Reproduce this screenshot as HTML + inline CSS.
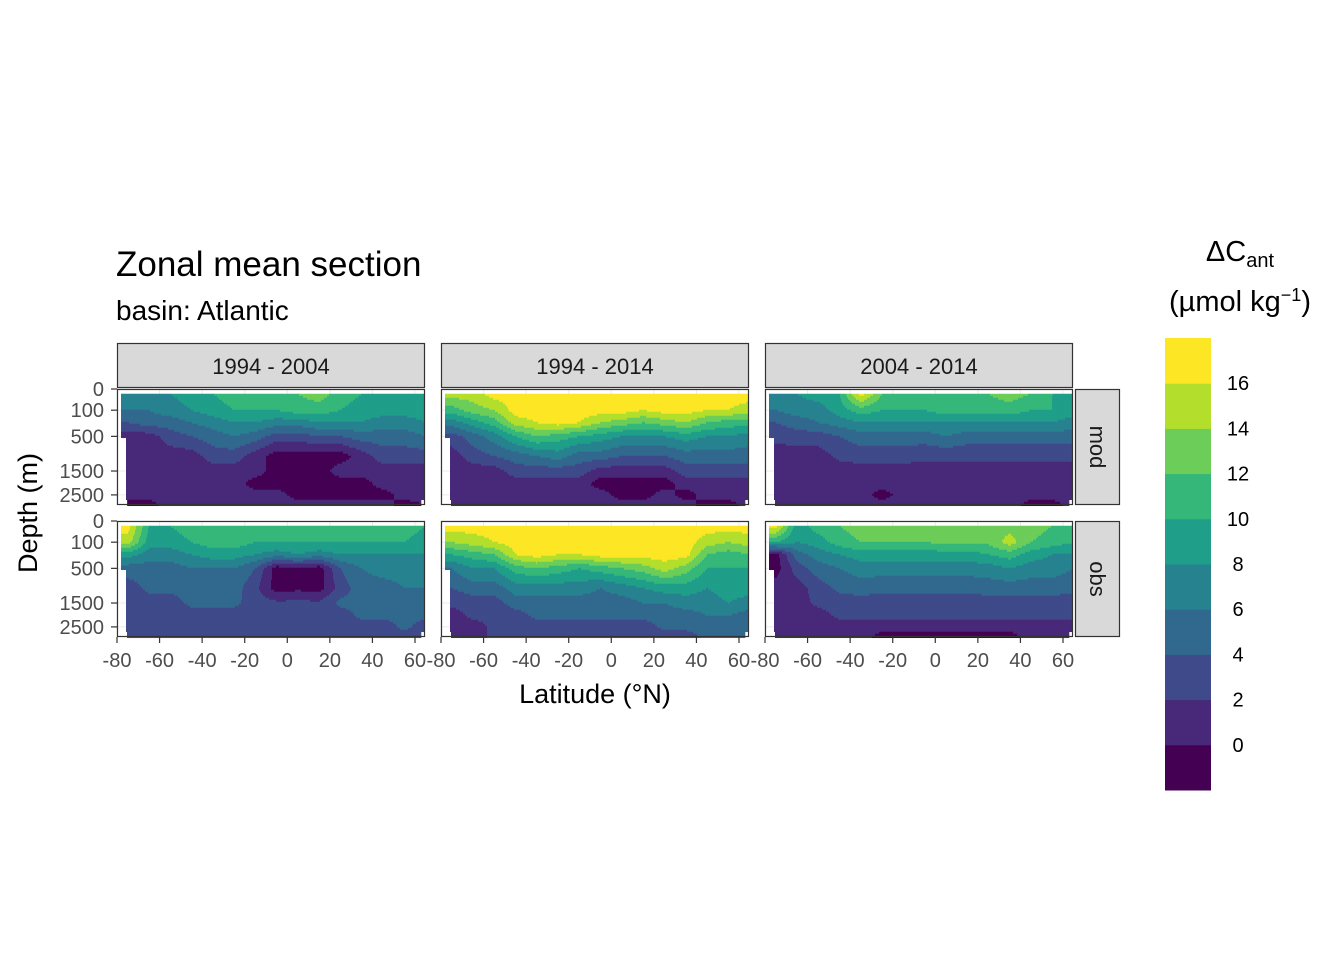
<!DOCTYPE html>
<html><head><meta charset="utf-8">
<style>
html,body{margin:0;padding:0;background:#fff;}
svg{display:block;font-family:"Liberation Sans",sans-serif;}
</style></head>
<body>
<svg id="chart" width="1344" height="960" viewBox="0 0 1344 960">
<text x="116" y="276" font-size="35" fill="#000">Zonal mean section</text>
<text x="116" y="320" font-size="28" fill="#000">basin: Atlantic</text>
<text transform="translate(37,513) rotate(-90)" text-anchor="middle" font-size="27" fill="#000">Depth (m)</text>
<text x="595" y="703" text-anchor="middle" font-size="27" fill="#000">Latitude (°N)</text>
<text x="1240" y="261" text-anchor="middle" font-size="29" fill="#000">ΔC<tspan font-size="20" dy="6">ant</tspan></text>
<text x="1240" y="311" text-anchor="middle" font-size="29" fill="#000">(µmol kg<tspan font-size="18" dy="-10">−1</tspan><tspan dy="10">)</tspan></text>
<g id="panels"></g>
<g id="legend"></g>
</svg>
<script>
const lats = [-75,-65,-55,-45,-35,-25,-15,-5,5,15,25,35,45,55,65];
const depths = [5,100,250,500,1000,1500,2000,2500,3000];
const periods = ["1994 - 2004","1994 - 2014","2004 - 2014"];
const sources = ["mod","obs"];
const levels = [0,2,4,6,8,10,12,14,16];
const legendLabels = ["0","2","4","6","8","10","12","14","16"];
const xTicks = [-80,-60,-40,-20,0,20,40,60];
const yTicks = [0,100,500,1500,2500];
const colors = ["#440154","#482878","#3E4A89","#31688E","#26828E","#1F9E89","#35B779","#6DCD59","#B4DE2C","#FDE725"];
const modA = [[7,6,4,1,1,1,1,0,0],[7,6,5,1,1,1,1,1,-1],[8,7,5,3,1,1,1,1,1],[9,8,6,4,1,1,1,1,1],[10,9,7,5,3,1,1,1,1],[11,10,8,6,3,1,1,1,1],[11,10,8,5,1,1,-1,1,1],[11,10,7,3,-1,-1,-1,1,1],[12,11,7,3,-1,-1,-1,-1,1],[13,11,8,4,-1,-1,-1,-1,1],[11,10,8,4,-1,1,-1,-1,1],[10,9,8,5,1,1,-1,-1,1],[9,9,7,5,3,1,1,-1,1],[9,9,7,5,3,1,1,1,-1],[9,9,8,6,3,1,1,1,0]];
const modB = [[15,11,7,3,1,1,1,1,1],[15,13,9,5,3,1,1,1,1],[17,14,11,7,4,1,1,1,1],[17,17,15,10,5,3,1,1,1],[17,17,16,12,6,3,1,1,1],[17,17,17,11,7,3,1,1,1],[17,17,16,10,5,3,1,1,1],[17,17,14,9,5,1,-1,1,1],[17,17,13,8,4,1,-1,-1,1],[17,16,12,8,4,1,-1,-1,1],[17,17,13,8,4,1,-1,1,1],[17,17,14,9,5,3,1,-1,1],[17,16,12,8,5,3,1,1,-1],[17,16,11,8,5,3,1,1,-1],[17,15,11,7,5,3,1,1,1]];
const modC = [[8,6,4,2.5,1,1,1,1,1],[8,7,5,3,1,1,1,1,1],[9,7,6,3,1,1,1,1,1],[10,9,7,4,2.5,1,1,1,1],[17,11,8,5,3,1,1,1,1],[12,10,8,5,3,1,1,-1,1],[12,10,8,5,3,1,1,1,1],[12,10,8,5,2.5,1,1,1,1],[12,11,8,6,2.5,1,1,1,1],[12,11,8,5,2.5,1,1,1,1],[12,11,8,5,2.5,1,1,1,1],[13,11,8,5,2.5,1,1,1,1],[12,10,8,5,2.5,1,1,1,-1],[10,10,8,5,2.5,1,1,1,-1],[10,9,7,5,2.5,1,1,1,1]];
const obsA = [[17,15,9,5,3,2.5,2.5,2.5,2.5],[10,9,7,5,4.5,3,2.5,2.5,2.5],[10,9,7,5,4.5,3,2.5,2.5,2.5],[11,10,8,6,5,4.5,3,3,3],[12,11,9,6,5,4.5,3,3,3],[12,11,9,6,5,4.5,3,3,3],[11,10,8,4,2.5,3,3,3,3],[11,10,7,-1,-1,2.5,3,3,3],[11,10,8,-0.5,-0.5,2.5,3,3,3],[11,10,7,-1,-1,2.5,3,3,3],[11,10,8,4,3,4.5,3,3,3],[11,10,8,6,5,4.5,4.5,3,3],[11,10,8,7,5,4.5,4.5,3,3],[11,10,8,7,6,5,4.5,4.5,3],[10,9,8,7,6,5,4.5,3,3]];
const obsB = [[17,14,10,6,4,2.5,1,1,1],[17,15,11,8,5,3,2.5,1,1],[17,16,12,8,5,3,2.5,2.5,2.5],[17,17,16,11,7,5,3,3,3],[17,17,17,12,7,5,4.5,3,3],[17,17,16,11,7,5,4.5,3,3],[17,17,16,10,7,5,4.5,3,3],[17,17,17,11,6,5,4.5,3,3],[17,17,17,12,7,5,4.5,3,3],[17,17,17,13,8,6,4.5,3,3],[17,17,17,15,9,6,5,4.5,3],[17,17,17,13,9,7,5,4.5,3],[17,15,12,10,8,7,6,5,4.5],[17,14,11,10,9,8,6,5,4.5],[17,15,12,10,9,7,5,4.5,4.5]];
const obsC = [[17,10,-1,-1,1,1,1,1,1],[9,8,5,3,1,1,1,1,1],[11,9,7,5,3,2.5,1,1,1],[12,11,8,6,4.5,3,2.5,1,1],[13,12,9,7,5,3,2.5,1,1],[13,12,9,7,4.5,3,2.5,1,-1],[13,12,9,7,4.5,3,2.5,1,-1],[13,12,9,7,4.5,3,2.5,1,-1],[13,12.5,9,7,4.5,3,2.5,1,-1],[13,12.5,9,7,4.5,3,2.5,1,-1],[13,12.5,10,7,5,3,2.5,1,-1],[13,15,11,8,5,3,2.5,1,-1],[13,12,9,7,5,3,2.5,1,1],[12,11,8,7,5,3,2.5,1,1],[11,10,8,6,4.5,3,2.5,1,1]];
const grids = [[modA,modB,modC],[obsA,obsB,obsC]];

const NS="http://www.w3.org/2000/svg";
const colX=[117,441,765], rowY=[389,521], PW=308, PH=116;
const xScale=(lat,c)=>colX[c]+(lat+80)*(298/140);
const yScale=(d,r)=>rowY[r]+Math.sqrt(d)/Math.sqrt(3000)*PH;
function mk(tag,attrs,parent){const e=document.createElementNS(NS,tag);for(const k in attrs)e.setAttribute(k,attrs[k]);parent.appendChild(e);return e;}
function bin(v){v=Math.round(v*1000)/1000;let b=0;for(let i=0;i<levels.length;i++) if(v>=levels[i]) b=i+1;return b;}
function sample(g,lat,d){
  let li=0; while(li<lats.length-2 && lat>lats[li+1]) li++;
  let t=(lat-lats[li])/(lats[li+1]-lats[li]); t=Math.max(0,Math.min(1,t));
  const s=Math.sqrt(d); let di=0; while(di<depths.length-2 && d>depths[di+1]) di++;
  let u=(s-Math.sqrt(depths[di]))/(Math.sqrt(depths[di+1])-Math.sqrt(depths[di])); u=Math.max(0,Math.min(1,u));
  const a=g[li][di],b=g[li+1][di],c=g[li][di+1],e=g[li+1][di+1];
  return a*(1-t)*(1-u)+b*t*(1-u)+c*(1-t)*u+e*t*u;
}
const P=document.getElementById('panels');
for(let r=0;r<2;r++)for(let c=0;c<3;c++){
  const g=mk('g',{},P);
  
  
  const bg=mk('rect',{x:colX[c],y:rowY[r],width:PW,height:PH,fill:'#fff'},g);
  
  
  xTicks.forEach(t=>{const l=mk('line',{x1:xScale(t,c),x2:xScale(t,c),y1:rowY[r],y2:rowY[r]+PH,stroke:'#EBEBEB','stroke-width':1},g);
    
    });
  yTicks.forEach(t=>{const l=mk('line',{x1:colX[c],x2:colX[c]+PW,y1:yScale(t,r),y2:yScale(t,r),stroke:'#EBEBEB','stroke-width':1},g);
    
    });
  const grid=grids[r][c];
  const step=2;
  for(let py=yScale(5,r);py<rowY[r]+PH;py+=step){
    const d=Math.pow((py+step/2-rowY[r])/PH*Math.sqrt(3000),2);
    let runStart=null,runBin=null;
    const flush=(xe)=>{if(runStart!==null&&runBin!==null){const rc=mk('rect',{x:runStart,y:py,width:xe-runStart+0.3,height:step+0.3,fill:colors[runBin]},g);
      
      }};
    for(let px=colX[c];px<colX[c]+PW;px+=1){
      const lat=(px+0.5-colX[c])/(298/140)-80;
      let b=null;
      let mask = lat<-78 || (d>550 && lat<-76) || lat>64.2 || (d>2750 && lat>63) || (d>2750 && lat<-75.5);
      if(!mask) b=bin(sample(grid,lat,d));
      if(b!==runBin){flush(px);runStart=px;runBin=b;}
    }
    flush(colX[c]+PW);
  }
  const bd=mk('rect',{x:colX[c]+0.5,y:rowY[r]+0.5,width:PW-1,height:PH-1,fill:'none',stroke:'#333','stroke-width':1.2},g);
  
  
}
for(let c=0;c<3;c++){
  const s=mk('rect',{x:colX[c]+0.5,y:343.5,width:PW-1,height:44,fill:'#D9D9D9',stroke:'#333','stroke-width':1.2},P);
  
  
  const t=mk('text',{x:colX[c]+PW/2,y:374,'text-anchor':'middle','font-size':22,fill:'#1A1A1A'},P);
  t.textContent=periods[c];
  
  
}
for(let r=0;r<2;r++){
  const s=mk('rect',{x:1075.5,y:rowY[r]+0.5,width:44,height:PH-1,fill:'#D9D9D9',stroke:'#333','stroke-width':1.2},P);
  
  
  const t=mk('text',{transform:`translate(1090,${rowY[r]+PH/2}) rotate(90)`,'text-anchor':'middle','font-size':22,fill:'#1A1A1A'},P);
  t.textContent=sources[r];
  
  
}
for(let r=0;r<2;r++) yTicks.forEach((t,i)=>{
  const y=yScale(t,r);
  const l=mk('line',{x1:111,x2:117,y1:y,y2:y,stroke:'#333','stroke-width':1.2},P);
  
  
  const tx=mk('text',{x:104,y:y+7,'text-anchor':'end','font-size':20,fill:'#4D4D4D'},P);
  tx.textContent=String(t);
  
  
});
for(let c=0;c<3;c++) xTicks.forEach(t=>{
  const x=xScale(t,c);
  const l=mk('line',{x1:x,x2:x,y1:637,y2:643,stroke:'#333','stroke-width':1.2},P);
  
  
  const tx=mk('text',{x:x,y:667,'text-anchor':'middle','font-size':20,fill:'#4D4D4D'},P);
  tx.textContent=String(t);
  
  
});
const L=document.getElementById('legend');
const bh=45.2;
colors.forEach((col,i)=>{
  const rc=mk('rect',{x:1165,y:790-(i+1)*bh,width:46,height:bh+0.5,fill:col},L);
  
  
});
legendLabels.forEach((lab,i)=>{
  const t=mk('text',{x:1238,y:790-(i+1)*bh+7,'text-anchor':'middle','font-size':20,fill:'#000'},L);
  t.textContent=lab;
  
  
});
</script>
</body></html>
